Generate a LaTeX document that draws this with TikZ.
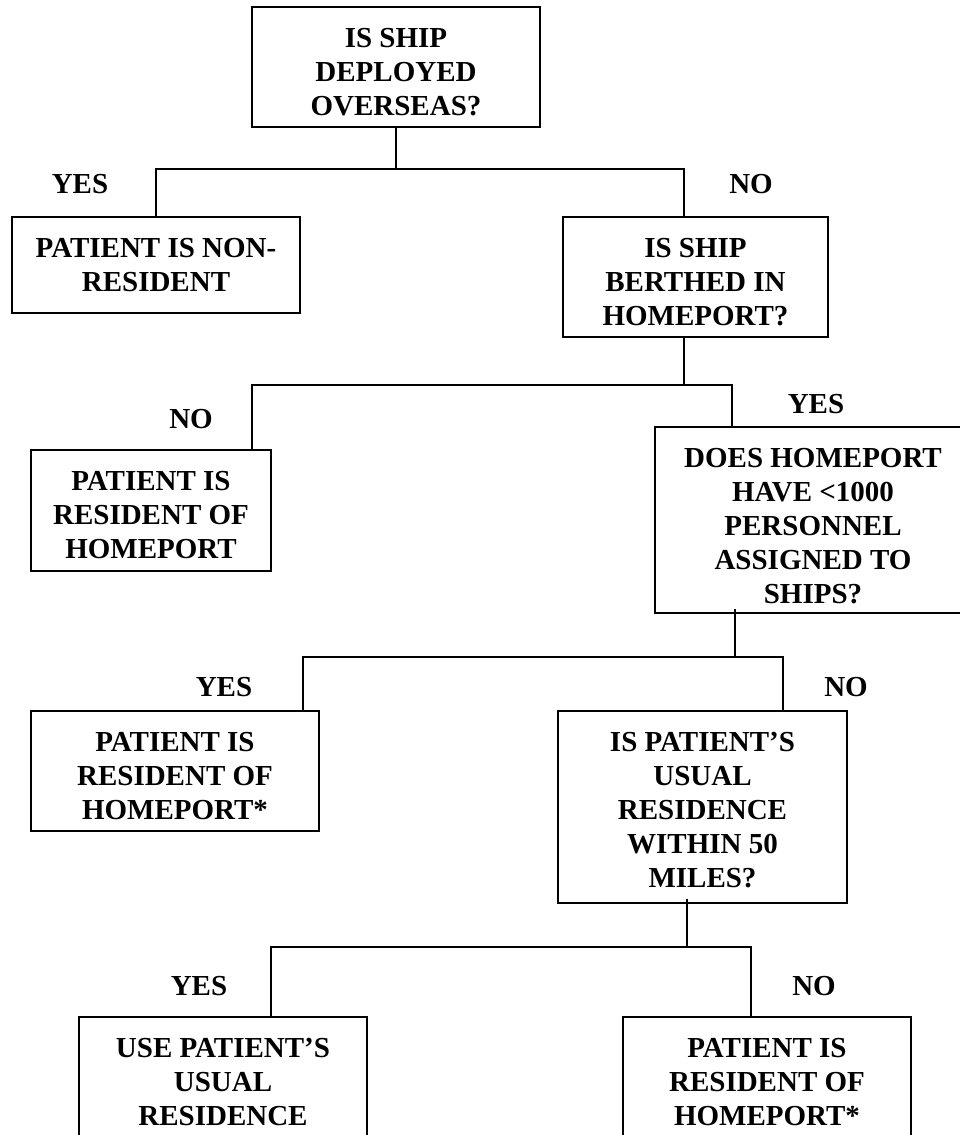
\documentclass[tikz,border=0pt]{standalone}
\usepackage{fontspec}
\setmainfont{Liberation Serif}
\usetikzlibrary{calc}
\newcommand{\btext}[3]{\parbox[t][#1pt][t]{#2pt}{\centering\rule{0pt}{40pt}#3}}
\begin{document}
\begin{tikzpicture}[x=1pt,y=-1pt,
  box/.style={draw, line width=2pt, inner sep=0pt, outer sep=0pt, anchor=north west,
    font=\fontsize{29}{34}\selectfont\bfseries},
  lbl/.style={anchor=base, inner sep=0pt, font=\fontsize{29}{34}\selectfont\bfseries},
  conn/.style={line width=1.8pt},
  thin/.style={line width=1.4pt}]
\fill[white] (0,0) rectangle (960,1135);
\useasboundingbox (0,0) rectangle (960,1135);
\clip (0,0) rectangle (960,1135);

% boxes
\node[box] (q1) at (252,7)   {\btext{120}{288}{IS SHIP\\DEPLOYED\\OVERSEAS?}};
\node[box] (a1) at (12,217)  {\btext{96}{288}{PATIENT IS NON-\\RESIDENT}};
\node[box] (q2) at (563,217) {\btext{120}{265}{IS SHIP\\BERTHED IN\\HOMEPORT?}};
\node[box] (a2) at (31,450)  {\btext{121}{240}{PATIENT IS\\RESIDENT OF\\HOMEPORT}};
\node[box] (q3) at (655,427) {\btext{186}{316}{DOES HOMEPORT\\HAVE <1000\\PERSONNEL\\ASSIGNED TO\\SHIPS?}};
\node[box] (a3) at (31,711)  {\btext{120}{288}{PATIENT IS\\RESIDENT OF\\HOMEPORT*}};
\node[box] (q4) at (558,711) {\btext{192}{289}{IS PATIENT’S\\USUAL\\RESIDENCE\\WITHIN 50\\MILES?}};
\node[box] (a4) at (79,1017) {\btext{125}{288}{USE PATIENT’S\\USUAL\\RESIDENCE}};
\node[box] (a5) at (623,1017){\btext{125}{288}{PATIENT IS\\RESIDENT OF\\HOMEPORT*}};

% labels
\node[lbl] (y1) at (80,193)  {YES};
\node[lbl] (n1) at (751,193) {NO};
\node[lbl] (n2) at (191,428) {NO};
\node[lbl] (y2) at (816,413) {YES};
\node[lbl] (y3) at (224,696) {YES};
\node[lbl] (n3) at (846,696) {NO};
\node[lbl] (y4) at (199,995) {YES};
\node[lbl] (n4) at (814,995) {NO};

% connection points
\coordinate (h1) at (396,169);
\coordinate (q2in)  at ($(q2.north west)+(121,0)$);
\coordinate (q2out) at ($(q2.south west)+(121,0)$);
\coordinate (h2) at (684,385);
\coordinate (a2in)  at ($(a2.north west)+(221,0)$);
\coordinate (q3in)  at ($(q3.north west)+(77,0)$);
\coordinate (q3out) at ($(q3.south west)+(80,-4)$);
\coordinate (h3) at (735,657);
\coordinate (a3in)  at ($(a3.north west)+(272,0)$);
\coordinate (q4in)  at ($(q4.north west)+(225,0)$);
\coordinate (q4out) at ($(q4.south west)+(129,-4)$);
\coordinate (h4) at (687,947);
\coordinate (a4in)  at ($(a4.north west)+(192,0)$);
\coordinate (a5in)  at ($(a5.north west)+(128,0)$);

% connectors
\draw[conn] (q1.south) -- (h1);
\draw[conn] (a1.north) |- (h1) -| (q2in);
\draw[conn] (q2out) -- (h2);
\draw[conn] (a2in) |- (h2) -| (q3in);
\draw[thin] (q3out) -- ($(h3)+(0,1)$);
\draw[conn] (a3in) |- (h3) -| (q4in);
\draw[thin] (q4out) -- ($(h4)+(0,1)$);
\draw[conn] (a4in) |- (h4) -| (a5in);
\end{tikzpicture}
\end{document}
